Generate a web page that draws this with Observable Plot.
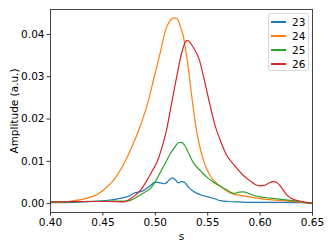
<!DOCTYPE html>
<html><head><meta charset="utf-8">
<script src="https://cdn.jsdelivr.net/npm/d3@7"></script>
<script src="https://cdn.jsdelivr.net/npm/@observablehq/plot@0.6"></script>
<style>
body{margin:0;background:#fff;font-family:"DejaVu Sans",sans-serif;}
#wrap{position:relative;width:332px;height:249px;}
#legend{position:absolute;left:268px;top:13px;width:41px;height:58px;border:1px solid #d9d9d9;border-radius:2px;background:rgba(255,255,255,0.8);box-sizing:border-box;font-size:10.5px;}
.item{position:absolute;left:2px;height:14px;display:flex;align-items:center;}
.item span.l{display:inline-block;width:15px;height:1.5px;margin-right:6px;}
</style></head><body>
<div id="wrap"><div id="chart"></div><div id="legend"></div></div>
<script>
const seriesNames = ["23","24","25","26"];
const colors = ["#1f77b4","#ff7f0e","#2ca02c","#d62728"];
const s23 = [0.40,0.42,0.44,0.455,0.465,0.475,0.48,0.488,0.495,0.50,0.505,0.509,0.513,0.516,0.519,0.522,0.525,0.528,0.532,0.537,0.543,0.55,0.556,0.562,0.57,0.58,0.59,0.60,0.62,0.64,0.65];
const a23 = [0.0002,0.0003,0.0005,0.0008,0.0012,0.0018,0.0025,0.003,0.0042,0.0051,0.0049,0.0047,0.0055,0.0061,0.0057,0.0049,0.0052,0.005,0.0038,0.0028,0.0021,0.0016,0.0012,0.0007,0.0005,0.0004,0.0003,0.0003,0.0003,0.0002,0.0001];
const s24 = [0.40,0.42,0.435,0.445,0.452,0.46,0.468,0.476,0.486,0.493,0.499,0.505,0.51,0.514,0.518,0.521,0.524,0.527,0.532,0.536,0.540,0.545,0.552,0.5615,0.568,0.5743,0.58,0.59,0.60,0.62,0.64,0.65];
const a24 = [0.0002,0.0006,0.0013,0.0022,0.0035,0.0055,0.0085,0.0125,0.0186,0.024,0.030,0.036,0.0412,0.0432,0.0439,0.0437,0.0418,0.0393,0.031,0.023,0.0163,0.011,0.0067,0.0042,0.003,0.0023,0.002,0.0016,0.0012,0.0007,0.0003,0.0];
const s25 = [0.40,0.43,0.46,0.473,0.48,0.486,0.49,0.4954,0.50,0.505,0.51,0.5145,0.519,0.522,0.525,0.528,0.532,0.5367,0.543,0.5495,0.556,0.562,0.57,0.575,0.58,0.584,0.59,0.60,0.61,0.62,0.635,0.65];
const a25 = [0.0004,0.0005,0.0006,0.0006,0.0012,0.0021,0.0027,0.0036,0.0052,0.0075,0.0098,0.0119,0.0135,0.0144,0.0145,0.0138,0.0118,0.0095,0.0078,0.0062,0.005,0.0041,0.003,0.0024,0.0027,0.0028,0.0023,0.0016,0.0013,0.001,0.0006,0.0];
const s26 = [0.40,0.43,0.455,0.47,0.476,0.481,0.486,0.492,0.497,0.5018,0.506,0.5104,0.515,0.52,0.525,0.529,0.531,0.534,0.538,0.542,0.547,0.552,0.557,0.562,0.568,0.575,0.5838,0.59,0.595,0.5997,0.604,0.608,0.6125,0.616,0.62,0.625,0.63,0.64,0.65];
const a26 = [0.0004,0.0005,0.0005,0.0004,0.0011,0.002,0.0032,0.0055,0.0077,0.0099,0.013,0.017,0.023,0.0295,0.0355,0.0383,0.0386,0.0378,0.0362,0.034,0.029,0.0235,0.0185,0.015,0.0115,0.0092,0.0067,0.0055,0.0046,0.0042,0.0043,0.0048,0.0052,0.005,0.0039,0.0022,0.0012,0.0005,0.0001];
const xTicks = [0.40,0.45,0.50,0.55,0.60,0.65];
const yTicks = [0.00,0.01,0.02,0.03,0.04];

const sList = [s23,s24,s25,s26], aList = [a23,a24,a25,a26];
const data = [];
seriesNames.forEach((n,i)=>sList[i].forEach((s,j)=>data.push({series:n,s,a:aList[i][j]})));

const chart = Plot.plot({
  width: 332, height: 249,
  marginLeft: 50, marginRight: 20, marginTop: 9, marginBottom: 37,
  style: {fontFamily: '"DejaVu Sans", sans-serif', fontSize: "10.5px", color: "#000", background: "#fff"},
  x: {domain: [0.40, 0.65]},
  y: {domain: [-0.0021, 0.0459]},
  color: {domain: seriesNames, range: colors},
  marks: [
    Plot.line(data, {x: "s", y: "a", z: "series", stroke: "series", strokeWidth: 1.2, curve: "monotone-x"}),
    Plot.frame({stroke: "#333", strokeWidth: 0.9}),
    Plot.axisX({ticks: xTicks, tickFormat: d3.format(".2f"), tickSize: 3.5, tickPadding: 3, label: "s", labelAnchor: "center", labelArrow: "none", labelOffset: 27, fill: "#000", stroke: "#333"}),
    Plot.axisY({ticks: yTicks, tickFormat: d3.format(".2f"), tickSize: 3.5, tickPadding: 2.5, label: "Amplitude (a.u.)", labelAnchor: "center", labelArrow: "none", labelOffset: 40, fill: "#000", stroke: "#333"})
  ]
});
document.getElementById("chart").appendChild(chart);

const leg = document.getElementById("legend");
seriesNames.forEach((n,i)=>{
  const d = document.createElement("div");
  d.className = "item";
  d.style.top = (1 + i*14) + "px";
  d.innerHTML = `<span class="l" style="background:${colors[i]}"></span><span>${n}</span>`;
  leg.appendChild(d);
});
</script></body></html>
